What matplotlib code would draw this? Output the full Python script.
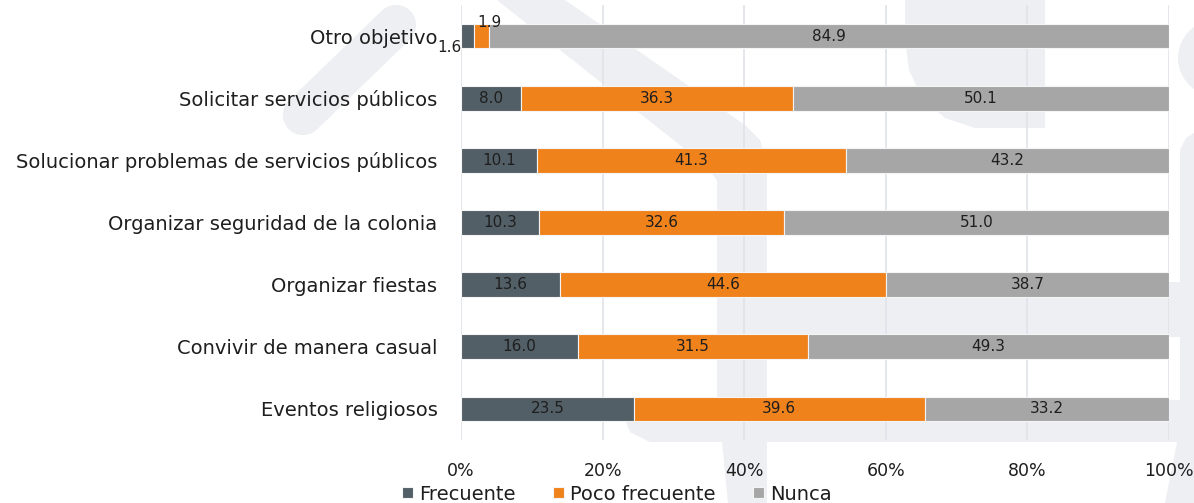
import matplotlib
matplotlib.use("Agg")
import matplotlib.pyplot as plt
import numpy as np
from matplotlib.patches import Polygon, Ellipse
from matplotlib.lines import Line2D

categories = [
    "Otro objetivo",
    "Solicitar servicios públicos",
    "Solucionar problemas de servicios públicos",
    "Organizar seguridad de la colonia",
    "Organizar fiestas",
    "Convivir de manera casual",
    "Eventos religiosos",
]
frecuente = [1.6, 8.0, 10.1, 10.3, 13.6, 16.0, 23.5]
poco_frecuente = [1.9, 36.3, 41.3, 32.6, 44.6, 31.5, 39.6]
nunca = [84.9, 50.1, 43.2, 51.0, 38.7, 49.3, 33.2]
series_names = ["Frecuente", "Poco frecuente", "Nunca"]
colors = ["#535f66", "#f0821c", "#a6a6a6"]
xticks = [0, 20, 40, 60, 80, 100]
xtick_labels = ["0%", "20%", "40%", "60%", "80%", "100%"]

plt.rcParams['font.family'] = ['DejaVu Sans']
text_color = "#1e1e1e"

fig = plt.figure(figsize=(11.94, 5.03), dpi=100)
W, H = 1194, 503

# faint watermark shapes (figure pixel coords -> fraction)
wm = "#eeeff2"
def P(x, y):
    return (x / W, 1 - y / H)

def poly(pts):
    fig.add_artist(Polygon([P(*q) for q in pts], closed=True, facecolor=wm,
                           edgecolor="none", transform=fig.transFigure, zorder=0))

# diagonal rounded stroke
fig.add_artist(Line2D([303 / W, 396 / W], [1 - 115 / H, 1 - 25 / H], lw=29,
                      color=wm, solid_capstyle="round", transform=fig.transFigure, zorder=0))
# band going down-right then vertical
poly([(497, 0), (565, 0), (745, 125), (760, 140), (767, 165), (767, 503),
      (728, 503), (722, 442), (650, 442), (630, 432), (623, 415), (623, 400),
      (717, 400), (717, 180), (705, 165)])
# horizontal bands right
poly([(767, 282), (1194, 282), (1194, 337), (767, 337)])
poly([(767, 400), (1182, 400), (1182, 442), (767, 442)])
# D shape top right
poly([(905, 0), (1045, 0), (1045, 128), (975, 128), (945, 118), (922, 98), (909, 70), (905, 40)])
# right side shapes
fig.add_artist(Ellipse(P(1216, 58), 76 / W, 76 / H, facecolor=wm, edgecolor="none",
                       transform=fig.transFigure, zorder=0))
poly([(1180, 150), (1186, 138), (1194, 133), (1194, 503), (1165, 503), (1177, 442), (1180, 442)])

ax = fig.add_axes([461 / W, 1 - 440 / H, (1169 - 461) / W, 435 / H])
ax.set_facecolor("none")

f = np.array(frecuente)
p = np.array(poco_frecuente)
n = np.array(nunca)
tot = f + p + n
vals = [f / tot * 100, p / tot * 100, n / tot * 100]
raw = [f, p, n]
y = np.arange(len(categories))

left = np.zeros(len(categories))
for i, (v, name, c) in enumerate(zip(vals, series_names, colors)):
    ax.barh(y, v, left=left, height=0.4, color=c, edgecolor="#f4f4f4", linewidth=0.8,
            label=name, zorder=3)
    for j in range(len(categories)):
        cx = left[j] + v[j] / 2
        lbl = f"{raw[i][j]:.1f}"
        if v[j] < 4:
            if i == 0:
                ax.annotate(lbl, (cx, y[j]), xytext=(-13, -8), textcoords="offset points",
                            ha="center", va="center", fontsize=11, color=text_color, zorder=5)
            else:
                ax.annotate(lbl, (cx, y[j]), xytext=(6, 10), textcoords="offset points",
                            ha="center", va="center", fontsize=11, color=text_color, zorder=5)
        else:
            ax.text(cx, y[j], lbl, ha="center", va="center", fontsize=11,
                    color=text_color, zorder=5)
    left = left + v

ax.set_ylim(len(categories) - 0.5, -0.5)
ax.set_xlim(0, 100)
ax.set_yticks(y)
ax.set_yticklabels(categories, fontsize=14, color=text_color)
ax.set_xticks(xticks)
ax.set_xticklabels(xtick_labels, fontsize=12.5, color=text_color)
ax.tick_params(axis="y", length=0, pad=17)
ax.tick_params(axis="x", length=0, pad=16)
ax.grid(axis="x", color="#dfe4ea", linewidth=1.2, zorder=0)
for s in ax.spines.values():
    s.set_visible(False)

handles, labels = ax.get_legend_handles_labels()
leg = fig.legend(handles, labels, loc="center", bbox_to_anchor=(617 / W, 1 - 494 / H),
                 ncol=3, frameon=False, fontsize=14, handlelength=0.55, handleheight=0.55,
                 handletextpad=0.35, columnspacing=1.9, borderpad=0, borderaxespad=0)
for t in leg.get_texts():
    t.set_color(text_color)

fig.savefig("out.png", dpi=100, facecolor="white")
